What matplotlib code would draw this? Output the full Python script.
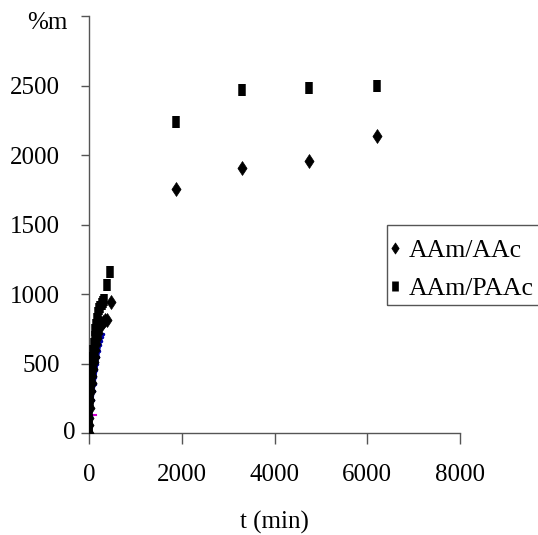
import matplotlib
matplotlib.use("Agg")
import matplotlib.pyplot as plt
from matplotlib.path import Path
from matplotlib.patches import Rectangle

plt.rcParams['font.family'] = ['Liberation Serif', 'DejaVu Serif']

# AAm/AAc (diamonds)
t_aac = [0, 5, 10, 20, 30, 45, 60, 75, 90, 105, 120, 140, 160, 180, 200, 230, 260, 300, 350, 390, 470,
         1870, 3300, 4750, 6200]
v_aac = [0, 60, 110, 180, 240, 300, 360, 410, 460, 510, 550, 600, 640, 680, 720, 760, 790, 800, 810, 815, 945,
         1755, 1910, 1960, 2140]

# AAm/PAAc (squares)
t_paac = [0, 2, 5, 10, 15, 20, 30, 45, 60, 75, 90, 105, 120, 140, 160, 180, 200, 220, 240, 270, 300, 325, 390, 450,
          1870, 3300, 4750, 6200]
v_paac = [0, 40, 90, 150, 230, 350, 380, 430, 490, 540, 590, 640, 690, 740, 780, 820, 860, 890, 910, 930, 945, 955, 1065, 1160,
          2240, 2470, 2485, 2500]

# fitted trend (blue) and short magenta segment
t_fit = [0, 20, 40, 60, 80, 100, 120, 140, 160, 180, 200, 220, 240, 260, 280, 300]
v_fit = [0, 60, 120, 180, 240, 300, 350, 400, 450, 500, 550, 590, 630, 660, 690, 710]
t_mag = [-40, 160]
v_mag = [130, 130]

xticks = [0, 2000, 4000, 6000, 8000]
yticks = [0, 500, 1000, 1500, 2000, 2500, 3000]

diamond = Path([(0, -0.5), (0.33, 0), (0, 0.5), (-0.33, 0), (0, -0.5)],
               [Path.MOVETO, Path.LINETO, Path.LINETO, Path.LINETO, Path.CLOSEPOLY])

fig = plt.figure(figsize=(5.38, 5.35), dpi=100)
ax = fig.add_axes([89/538, 1-433/535, (460-89)/538, (433-16)/535])

ax.plot(t_fit, v_fit, color='#0000aa', lw=1.5, marker='.', ms=3, zorder=2)
ax.plot(t_mag, v_mag, color='#cc00cc', lw=1.5, zorder=2)
ax.plot(t_aac, v_aac, ls='none', marker=diamond, ms=10, mew=0.5, color='black', label='AAm/AAc', zorder=3)
ax.plot(t_paac, v_paac, ls='none', marker='|', ms=9, mew=5.4, color='black', label='AAm/PAAc', zorder=3)

ax.set_xlim(0, 8000)
ax.set_ylim(0, 3000)
ax.set_xticks(xticks)
ax.set_yticks(yticks)
ax.set_yticklabels([''] + [str(v) for v in yticks[1:-1]] + [''])
ax.set_xticklabels([str(v) for v in xticks])
ax.spines['top'].set_visible(False)
ax.spines['right'].set_visible(False)
for s in ['left', 'bottom']:
    ax.spines[s].set_color('#555555')
    ax.spines[s].set_linewidth(1.0)
ax.tick_params(axis='y', direction='out', length=6, width=1, color='#555555', pad=15, labelsize=18)
ax.tick_params(axis='x', direction='out', length=8, width=1, color='#555555', pad=14, labelsize=18)

# "0" label sits closer to the axis in the reference
fig.text(76/538, 1-433/535, '0', fontsize=18, ha='right', va='center')

ax.set_xlabel('t (min)', fontsize=18, labelpad=18)
fig.text(67/538, 1-23/535, '%m', fontsize=18, ha='right', va='center')

leg = ax.legend(loc='upper left', bbox_to_anchor=(382/538, 1-231/535), bbox_transform=fig.transFigure,
                frameon=False, fontsize=18.5, handlelength=0.4, handletextpad=0.35,
                borderpad=0.3, labelspacing=0.6, borderaxespad=0, markerscale=0.8)
for h in leg.legend_handles:
    if h.get_marker() == '|':
        h.set_markeredgewidth(4.8)
# legend frame runs off the right edge of the figure in the reference
fig.patches.append(Rectangle((387/538, 1-305/535), 160/538, 80/535, transform=fig.transFigure,
                             facecolor='none', edgecolor='#555555', lw=1.0, clip_on=False))

fig.savefig('out.png', dpi=100)
